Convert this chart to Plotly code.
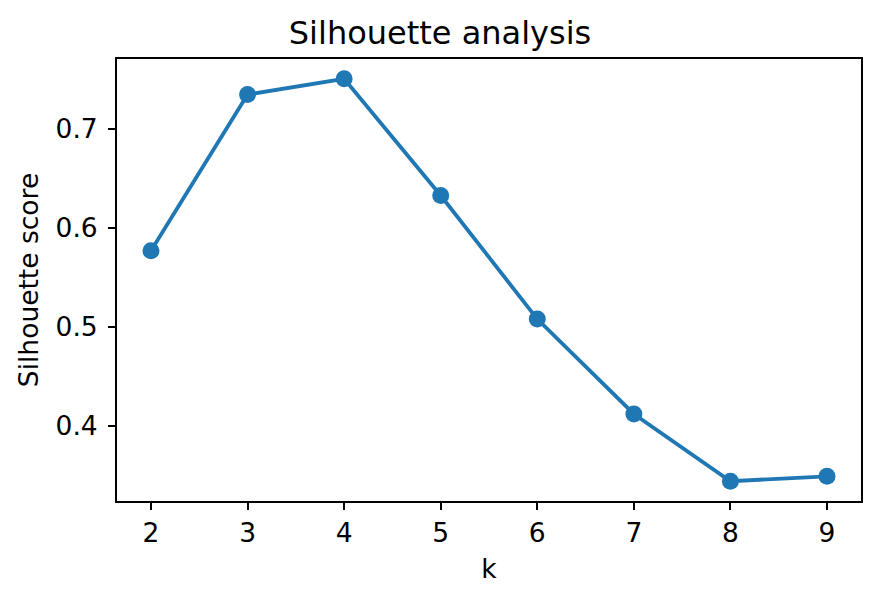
import plotly.graph_objects as go

k_values = [2, 3, 4, 5, 6, 7, 8, 9]
silhouette_scores = [0.577, 0.735, 0.751, 0.633, 0.508, 0.412, 0.344, 0.349]
y_tick_values = [0.4, 0.5, 0.6, 0.7]
y_tick_labels = ["0.4", "0.5", "0.6", "0.7"]

fig = go.Figure()
fig.add_trace(go.Scatter(
    x=k_values, y=silhouette_scores, mode="lines+markers",
    line=dict(color="#1f77b4", width=3.8),
    marker=dict(color="#1f77b4", size=17),
    showlegend=False,
))

font_family = "DejaVu Sans"
label_size = 26.5
axis_common = dict(
    showline=True, linecolor="black", linewidth=2, mirror=True,
    ticks="outside", ticklen=7, tickwidth=2, tickcolor="black",
    showgrid=False, zeroline=False,
    tickfont=dict(family=font_family, size=label_size, color="black"),
)

fig.update_layout(
    width=880, height=603,
    margin=dict(l=117, r=19, t=59, b=102),
    paper_bgcolor="white", plot_bgcolor="white",
    title=dict(text="Silhouette analysis", x=0.5, xanchor="center",
               y=1 - 33 / 603, yanchor="middle",
               font=dict(family=font_family, size=32, color="black")),
    xaxis=dict(range=[1.648, 9.352], tickvals=k_values,
               ticktext=[str(k) for k in k_values],
               title=dict(text="k", standoff=13,
                          font=dict(family=font_family, size=label_size, color="black")),
               **axis_common),
    yaxis=dict(range=[0.324, 0.771], tickvals=y_tick_values, ticktext=y_tick_labels,
               ticklabelstandoff=5,
               title=dict(text="Silhouette score", standoff=9,
                          font=dict(family=font_family, size=label_size, color="black")),
               **axis_common),
)

fig.write_html("out.html", config={"displayModeBar": False},
               post_script="document.body.style.margin='0';")
